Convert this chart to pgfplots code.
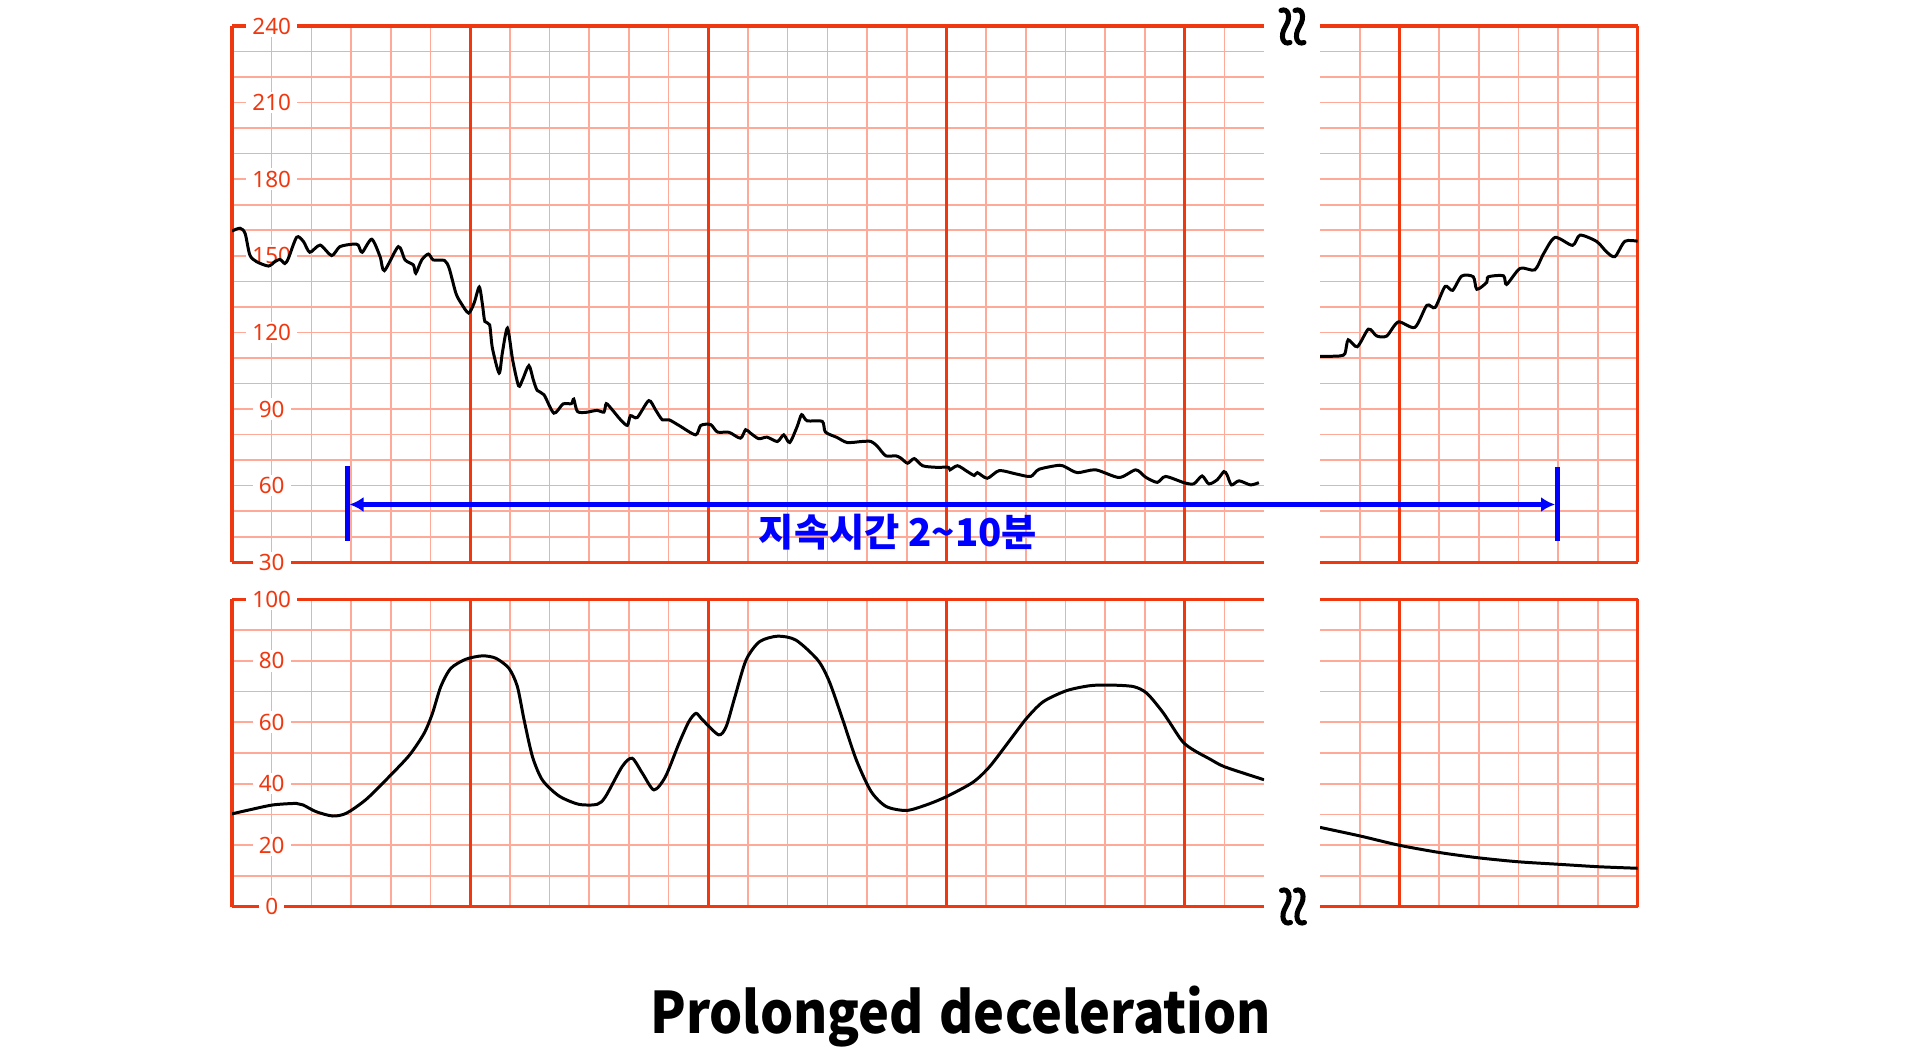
\documentclass[border=0pt]{standalone}
\usepackage{fontspec}
\usepackage{graphicx}
\setmainfont{Noto Sans}
\newfontfamily\krfont{Noto Sans CJK KR}
\usepackage{pgfplots}
\pgfplotsset{compat=1.18}
\usetikzlibrary{arrows.meta}
\definecolor{axisred}{RGB}{240,56,16}
\definecolor{gridlight}{RGB}{255,170,152}
\definecolor{annblue}{RGB}{0,0,255}
\pgfplotsset{
  ctg/.style={
    scale only axis, set layers,
    separate axis lines,
    x axis line style={draw=axisred, line width=0.9pt},
    y axis line style={draw=none},
    major tick length=0pt, minor tick length=0pt,
    xticklabels={},
    xmajorgrids=true,
    ymajorgrids=false, yminorgrids=true,
    major grid style={draw=gridlight, line width=0.45pt},
    minor grid style={draw=gridlight, line width=0.45pt},
    extra x tick labels={},
    extra x tick style={major grid style={draw=axisred, line width=0.9pt}},
    yticklabel style={anchor=center, xshift=3.97mm, fill=white, inner xsep=0.6mm, inner ysep=0.25mm, text=axisred, font=\fontsize{6.4pt}{7pt}\selectfont},
    /pgf/number format/assume math mode=true,
  },
  fhr/.style={ctg, ymin=30, ymax=240, height=53.63mm,
    ytick={30,60,...,240}, minor ytick={40,50,...,230}},
  uc/.style={ctg, ymin=0, ymax=100, height=30.74mm,
    ytick={0,20,...,100}, minor ytick={10,20,...,90}},
  leftseg/.style={xmin=0, xmax=26, width=103.2mm,
    xtick={1,2,3,4,5,7,8,9,10,11,13,14,15,16,17,19,20,21,22,23,25},
    extra x ticks={0,6,12,18,24}},
  rightseg/.style={xmin=0, xmax=8, width=31.76mm, yticklabels={},
    yticklabel style={fill=none, draw=none},
    xtick={1,3,4,5,6,7}, extra x ticks={2,8}},
  trace/.style={black, line width=0.85pt, smooth, tension=0.45, no marks},
}
\begin{document}
\begin{tikzpicture}
% ---------- FHR left ----------
\begin{axis}[fhr, leftseg, at={(23.2mm,49.17mm)}, anchor=south west]
\addplot[trace] coordinates {
(0,159.7)(0.2,160.8)(0.33,158.8)(0.45,150.3)(0.62,147.7)(0.92,146)(1.08,147.7)(1.21,148.6)(1.33,147)(1.42,149)
(1.63,157.3)(1.80,155.6)(1.96,151.4)(2.22,154.2)(2.51,150.1)(2.72,153.6)(3.06,154.6)(3.18,154.2)(3.28,151.4)(3.52,156.5)
(3.73,149.7)(3.84,144.2)(4.19,153.6)(4.36,148.4)(4.57,146.4)(4.63,143.2)(4.78,148.4)(4.95,150.7)(5.07,148.4)(5.35,148.2)
(5.47,145.2)(5.64,135.4)(5.77,131.5)(5.96,127.6)(6.10,131.5)(6.23,137.8)(6.31,130.9)(6.37,124.3)(6.49,123.0)(6.56,113.9)
(6.73,104.1)(6.81,111.9)(6.94,121.7)(7.07,109.3)(7.22,99.1)(7.32,101.5)(7.48,107.0)(7.59,101.5)(7.69,97.3)(7.86,95.6)
(8.11,88.4)(8.34,92.0)(8.55,92.1)(8.61,93.9)(8.70,89.1)(8.91,88.7)(9.20,89.5)(9.37,88.8)(9.43,92.1)(9.58,89.7)
(9.79,85.8)(9.96,83.6)(10.04,87.4)(10.21,86.7)(10.50,93.3)(10.67,89.7)(10.84,85.8)(11.01,85.8)(11.26,83.6)(11.68,79.9)
(11.81,83.6)(12.06,83.9)(12.23,81.0)(12.52,80.9)(12.81,78.6)(12.94,81.9)(13.06,80.6)(13.27,78.4)(13.48,79.0)(13.74,77.3)
(13.90,79.9)(14.05,76.9)(14.24,83.2)(14.35,87.8)(14.49,85.4)(14.87,85.2)(14.95,81.0)(15.24,78.9)(15.50,76.9)(15.87,77.3)
(16.10,77.3)(16.26,75.4)(16.47,71.7)(16.72,71.7)(16.85,70.8)(17.02,68.8)(17.19,70.6)(17.40,67.8)(17.73,67.2)(18.05,67.2)
(18.09,66.2)(18.28,67.8)(18.53,65.5)(18.70,64.0)(18.78,65.1)(19.03,62.9)(19.33,65.9)(19.75,64.6)(20.12,63.6)(20.33,66.4)
(20.84,68.0)(21.01,67.2)(21.30,65.1)(21.76,66.2)(22.35,63.2)(22.77,66.2)(23.02,63.3)(23.31,61.3)(23.52,63.6)(23.98,61.2)
(24.23,60.7)(24.44,63.8)(24.61,60.7)(24.82,62.3)(24.99,65.5)(25.07,64.2)(25.18,60.3)(25.37,61.9)(25.66,60.3)(25.87,61.2)
};
\end{axis}
% ---------- FHR right ----------
\begin{axis}[fhr, rightseg, at={(132.0mm,49.17mm)}, anchor=south west]
\addplot[trace] coordinates {
(0,110.6)(0.50,110.8)(0.63,111.8)(0.71,117.1)(0.94,114.4)(1.22,121.3)(1.43,118.6)(1.68,118.6)(1.97,124.1)(2.39,122.0)
(2.69,130.6)(2.90,129.8)(3.15,138.0)(3.34,136.5)(3.57,142.1)(3.86,141.8)(3.95,136.9)(4.20,139.6)(4.24,141.8)(4.62,142.2)
(4.70,138.8)(5.04,145.1)(5.41,144.5)(5.63,150.8)(5.92,157.2)(6.36,154.1)(6.55,158.1)(6.97,155.6)(7.22,151.5)(7.43,149.7)
(7.68,155.7)(8.00,155.7)
};
\end{axis}
% ---------- UC left ----------
\begin{axis}[uc, leftseg, at={(23.2mm,14.73mm)}, anchor=south west]
\addplot[trace] coordinates {
(0,30.2)(0.44,31.5)(1.03,33.1)(1.62,33.6)(1.79,33.1)(2.12,30.9)(2.54,29.5)(2.88,30.4)(3.38,34.9)(3.96,42.3)
(4.47,49.3)(4.84,56.4)(5.05,62.9)(5.26,71.6)(5.51,77.5)(5.89,80.5)(6.31,81.6)(6.65,80.8)(6.98,77.5)(7.19,71.6)
(7.36,60.7)(7.57,48.8)(7.82,41.2)(8.24,36.0)(8.74,33.3)(9.20,33.3)(9.41,35.8)(9.83,45.6)(10.08,48.3)(10.34,43.4)
(10.63,38.0)(10.92,42.3)(11.26,53.1)(11.51,60.2)(11.69,62.9)(11.86,60.7)(12.26,55.9)(12.45,58.6)(12.66,67.8)(12.95,80.2)
(13.29,86.2)(13.75,88.0)(14.21,86.7)(14.76,80.2)(15.05,73.2)(15.39,60.7)(15.73,47.7)(16.10,37.5)(16.48,32.6)(16.99,31.3)
(17.49,33.1)(18.00,35.8)(18.67,40.5)(19.09,45.6)(19.60,54.2)(20.02,61.3)(20.44,66.7)(21.03,70.3)(21.62,71.9)(22.12,72.1)
(22.71,71.6)(23.05,69.4)(23.47,62.9)(23.93,54.0)(24.22,51.0)(24.64,48.0)(25.01,45.5)(26.0,41.3)
};
\end{axis}
% ---------- UC right ----------
\begin{axis}[uc, rightseg, at={(132.0mm,14.73mm)}, anchor=south west]
\addplot[trace] coordinates {
(0,25.8)(1.01,23.0)(1.99,20.0)(3.02,17.6)(3.99,15.9)(5.00,14.6)(6.00,13.8)(7.01,13.0)(8,12.5)
};
\end{axis}
% ---------- break symbols ----------
\foreach \cx/\ty in {128.55/104.6, 129.95/104.6, 128.6/16.6, 130.0/16.6}{
  \draw[black, line width=0.5mm, line cap=round]
    ({(\cx-0.45)*1mm},{(\ty-0.25)*1mm}) .. controls ({(\cx+0.25)*1mm},{(\ty+0.05)*1mm}) and ({(\cx+0.6)*1mm},{(\ty-0.9)*1mm})
    .. ({\cx*1mm},{(\ty-1.85)*1mm}) .. controls ({(\cx-0.6)*1mm},{(\ty-2.8)*1mm}) and ({(\cx-0.25)*1mm},{(\ty-3.75)*1mm})
    .. ({(\cx+0.45)*1mm},{(\ty-3.45)*1mm});
}
% ---------- duration annotation ----------
\draw[annblue, line width=0.5mm] (34.7mm,58.8mm) -- (34.7mm,51.3mm);
\draw[annblue, line width=0.5mm] (155.77mm,58.7mm) -- (155.77mm,51.3mm);
\draw[annblue, line width=0.55mm, {Latex[length=1.4mm,width=1.5mm]}-{Latex[length=1.4mm,width=1.5mm]}] (34.95mm,54.95mm) -- (155.5mm,54.95mm);
\node[annblue, font=\krfont\bfseries\fontsize{10.9pt}{12pt}\selectfont] at (89.8mm,52.15mm) {지속시간 2\textasciitilde10분};
% ---------- title ----------
\node[anchor=base, font=\krfont\bfseries\fontsize{16.3pt}{18pt}\selectfont] at (96.07mm,2.0mm) {\scalebox{0.91}[1]{Prolonged\hspace{0.3em}deceleration}};
\pgfresetboundingbox
\path[use as bounding box] (0,0) rectangle (191.9mm,105.4mm);
\end{tikzpicture}
\end{document}
